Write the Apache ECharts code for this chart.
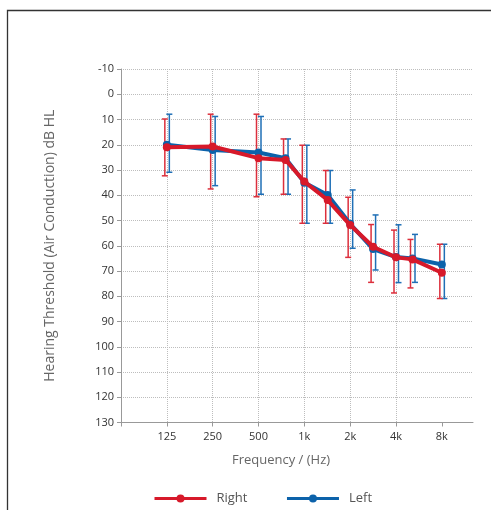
<!DOCTYPE html>
<html><head><meta charset="utf-8">
<script src="https://cdn.jsdelivr.net/npm/echarts@6/dist/echarts.min.js"></script>
<style>html,body{margin:0;padding:0;background:#fff}#c{width:491px;height:510px}</style>
</head><body><div id="c"></div>
<script>
// Tick labels (octave positions, 125 Hz = 1)
const freqLabels = ['125', '250', '500', '1k', '2k', '4k', '8k'];
const labelPos = [1, 2, 3, 4, 5, 6, 7];
const tickPos = [0, 1, 2, 3, 4, 5, 6, 7];
// Measured frequencies as positions on the octave axis
const pointPos = [1, 2, 3, 3.59, 4, 4.51, 5, 5.5, 6, 6.36, 7];
const yTicks = [-10, 130];

// Right ear (red)
const rightVals = [21, 20.7, 25.3, 26, 34.6, 41.9, 51.8, 60.4, 64.6, 65.4, 70.7];
const rightLow  = [9.8, 7.9, 7.9, 17.7, 20.2, 30.2, 40.8, 51.6, 53.8, 57.5, 59.4];
const rightHigh = [32.3, 37.5, 40.6, 39.6, 51.1, 51.1, 64.6, 74.5, 78.7, 76.7, 80.9];
// Left ear (blue)
const leftVals = [20, 22.1, 23.1, 25.3, 35, 39.9, 51.3, 61.3, 64.5, 65, 67.4];
const leftLow  = [7.9, 8.8, 8.8, 17.7, 20.2, 30.2, 37.9, 47.8, 51.7, 55.5, 59.4];
const leftHigh = [30.9, 36.2, 39.6, 39.6, 51.1, 51.1, 61.0, 69.6, 74.6, 74.5, 80.9];

const RED = '#d7192a', BLUE = '#0c62aa';
const RED_ERR = '#dc2f3c', BLUE_ERR = '#1f6fb6';

function errSeries(name, low, high, color, offset) {
  return {
    type: 'custom', name: name, silent: true, z: 1,
    data: pointPos.map((p, i) => [p, low[i], high[i]]),
    encode: { x: 0, y: [1, 2] },
    renderItem: function (params, api) {
      const a = api.coord([api.value(0), api.value(1)]);
      const b = api.coord([api.value(0), api.value(2)]);
      const x = a[0] + offset;
      const hw = 3;
      const st = { stroke: color, lineWidth: 1.5 };
      return {
        type: 'group', children: [
          { type: 'line', shape: { x1: x, y1: a[1], x2: x, y2: b[1] }, style: st },
          { type: 'line', shape: { x1: x - hw, y1: a[1], x2: x + hw, y2: a[1] }, style: st },
          { type: 'line', shape: { x1: x - hw, y1: b[1], x2: x + hw, y2: b[1] }, style: st }
        ]
      };
    }
  };
}

const chart = echarts.init(document.getElementById('c'), null, { renderer: 'canvas' });
const FONT = 'Open Sans';
chart.setOption({
  animation: false,
  textStyle: { fontFamily: FONT },
  graphic: [{
    type: 'rect', silent: true, z: 100,
    shape: { x: 7.5, y: 10.5, width: 600, height: 600 },
    style: { fill: 'none', stroke: '#333', lineWidth: 1.3 }
  }],
  grid: { left: 121, top: 69, right: 18, bottom: 87.5, containLabel: false },
  legend: {
    data: ['Right', 'Left'], left: 153, top: 492, padding: 0,
    itemWidth: 52, itemHeight: 10, itemGap: 38,
    lineStyle: { width: 3 },
    textStyle: { fontSize: 13, color: '#555', fontFamily: FONT, padding: [0, 0, 0, 5] }
  },
  xAxis: {
    type: 'value', min: 0, max: 7.68, interval: 1,
    axisLine: { show: true, onZero: false, lineStyle: { color: '#999' } },
    axisTick: { show: true, length: 4, customValues: tickPos, lineStyle: { color: '#999' } },
    axisLabel: {
      customValues: labelPos, fontSize: 11, color: '#333', margin: 9, fontFamily: FONT,
      formatter: function (v) { const i = labelPos.indexOf(Math.round(v)); return i >= 0 ? freqLabels[i] : ''; }
    },
    splitLine: { show: true, showMaxLine: false, lineStyle: { type: 'dotted', color: '#bdbdbd', width: 1 } },
    name: 'Frequency / (Hz)', nameLocation: 'middle', nameGap: 31,
    nameTextStyle: { fontSize: 13, color: '#666', fontFamily: FONT, padding: [0, 32, 0, 0] }
  },
  yAxis: {
    type: 'value', inverse: true, min: yTicks[0], max: yTicks[1], interval: 10,
    axisLine: { show: true, onZero: false, lineStyle: { color: '#999' } },
    axisTick: { show: true, length: 4, lineStyle: { color: '#999' } },
    axisLabel: { fontSize: 11, color: '#333', margin: 7, fontFamily: FONT },
    splitLine: { show: true, lineStyle: { type: 'dotted', color: '#bdbdbd', width: 1 } },
    name: 'Hearing Threshold (Air Conduction) dB HL', nameLocation: 'middle', nameGap: 64,
    nameTextStyle: { fontSize: 14, color: '#666', fontFamily: FONT }
  },
  series: [
    errSeries('Left err', leftLow, leftHigh, BLUE_ERR, 2.5),
    errSeries('Right err', rightLow, rightHigh, RED_ERR, -2),
    {
      type: 'line', name: 'Left', z: 2,
      data: pointPos.map((p, i) => [p, leftVals[i]]),
      color: BLUE, symbol: 'circle', symbolSize: 8, showSymbol: true,
      lineStyle: { width: 4, color: BLUE }, itemStyle: { color: BLUE }
    },
    {
      type: 'line', name: 'Right', z: 3,
      data: pointPos.map((p, i) => [p, rightVals[i]]),
      color: RED, symbol: 'circle', symbolSize: 8, showSymbol: true,
      lineStyle: { width: 4, color: RED }, itemStyle: { color: RED }
    }
  ]
});
</script></body></html>
